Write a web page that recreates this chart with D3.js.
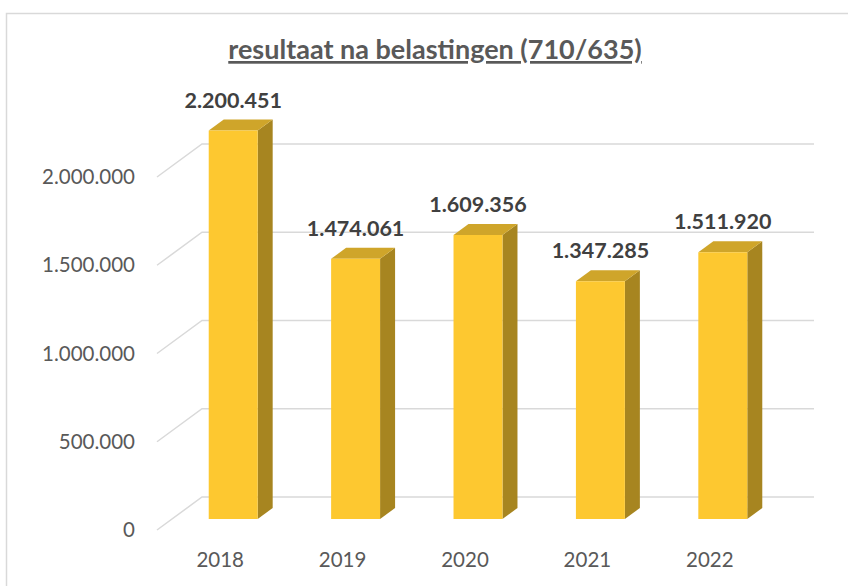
<!DOCTYPE html>
<html>
<head>
<meta charset="utf-8">
<script src="https://cdn.jsdelivr.net/npm/d3@7"></script>
<style>
  body { margin: 0; background: #fff; }
  text { font-family: Lato, "Open Sans", sans-serif; }
</style>
</head>
<body>
<svg id="chart" width="848" height="586"></svg>
<script>
var years = ["2018", "2019", "2020", "2021", "2022"];
var values = [2200451, 1474061, 1609356, 1347285, 1511920];
var yTicks = [0, 500000, 1000000, 1500000, 2000000];
var title = "resultaat na belastingen (710/635)";

// front plane of the 3d box, depth vector goes up and right
var front = { left: 157, right: 769, bottom: 530, top: 177 };
var depthX = 45, depthY = -33;

var fmt = function (v) {
  return d3.format(",")(v).replace(/,/g, ".");
};

var svg = d3.select("#chart");

// chart area border
svg.append("rect")
  .attr("x", 6.5)
  .attr("y", 13.5)
  .attr("width", 900)
  .attr("height", 700)
  .attr("fill", "none")
  .attr("stroke", "#d9d9d9")
  .attr("stroke-width", 1.5);

var xScale = d3.scaleBand()
  .domain(years)
  .range([front.left, front.right])
  .paddingInner(0.6)
  .paddingOuter(0.3);

var yScale = d3.scaleLinear()
  .domain([0, 2000000])
  .range([front.bottom, front.top]);

// gridlines: diagonal on the side wall, then across the back wall
var grid = svg.append("g").attr("class", "grid");
yTicks.forEach(function (t) {
  var y = yScale(t);
  grid.append("path")
    .attr("d", "M" + front.left + "," + y +
      "L" + (front.left + depthX) + "," + (y + depthY) +
      "L" + (front.right + depthX) + "," + (y + depthY))
    .attr("fill", "none")
    .attr("stroke", "#d9d9d9")
    .attr("stroke-width", 1.5);
});

// y labels
svg.append("g")
  .selectAll("text")
  .data(yTicks)
  .enter()
  .append("text")
  .attr("x", 135)
  .attr("y", function (d) { return yScale(d); })
  .attr("dy", "0.35em")
  .attr("text-anchor", "end")
  .style("font-size", "20.5px")
  .style("fill", "#595959")
  .text(fmt);

// x labels
svg.append("g")
  .selectAll("text")
  .data(years)
  .enter()
  .append("text")
  .attr("x", function (d) { return xScale(d) + xScale.bandwidth() / 2 + 2; })
  .attr("y", 567)
  .attr("text-anchor", "middle")
  .style("font-size", "20.5px")
  .style("fill", "#595959")
  .text(function (d) { return d; });

// bars sit in the middle third of the depth
var d0 = 1 / 3, d1 = 2 / 3;
var bars = svg.append("g")
  .selectAll("g")
  .data(years.map(function (y, i) { return { year: y, value: values[i] }; }))
  .enter()
  .append("g");

function pt(x, y, d) {
  return (x + depthX * d) + "," + (y + depthY * d);
}

bars.each(function (d) {
  var g = d3.select(this);
  var x0 = xScale(d.year), x1 = x0 + xScale.bandwidth();
  var yb = yScale(0), yt = yScale(d.value);
  // side
  g.append("polygon")
    .attr("points", [pt(x1, yb, d0), pt(x1, yb, d1), pt(x1, yt, d1), pt(x1, yt, d0)].join(" "))
    .attr("fill", "#a78520");
  // top
  g.append("polygon")
    .attr("points", [pt(x0, yt, d0), pt(x1, yt, d0), pt(x1, yt, d1), pt(x0, yt, d1)].join(" "))
    .attr("fill", "#cfa52a");
  // front
  g.append("polygon")
    .attr("points", [pt(x0, yb, d0), pt(x1, yb, d0), pt(x1, yt, d0), pt(x0, yt, d0)].join(" "))
    .attr("fill", "#fdc830");
  // value label
  g.append("text")
    .attr("x", (x0 + x1) / 2 + depthX * d0)
    .attr("y", yt + depthY * d1 - 12)
    .attr("text-anchor", "middle")
    .style("font-size", "21.5px")
    .style("font-weight", "bold")
    .style("fill", "#404040")
    .text(fmt(d.value));
});

// title
svg.append("text")
  .attr("x", 435)
  .attr("y", 59)
  .attr("text-anchor", "middle")
  .style("font-size", "27px")
  .style("font-weight", "bold")
  .style("fill", "#595959")
  .style("text-decoration", "underline")
  .text(title);
</script>
</body>
</html>
